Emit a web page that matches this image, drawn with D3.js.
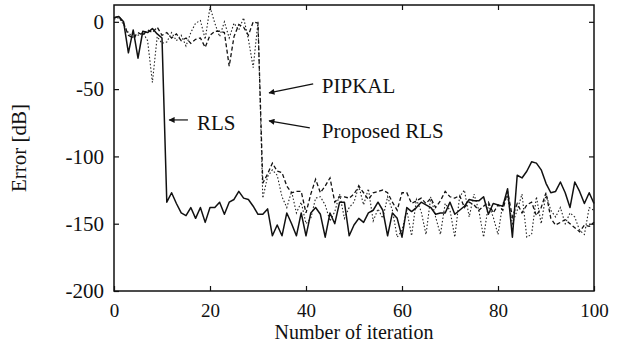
<!DOCTYPE html>
<html><head><meta charset="utf-8">
<script src="https://cdn.jsdelivr.net/npm/d3@7"></script>
<style>body{margin:0;background:#fff}svg{display:block}text{font-family:'Liberation Serif','Times New Roman',serif}</style>
</head><body>
<svg id="c" width="633" height="342"></svg>
<script>
const iterations = d3.range(0, 101);
const rls = [3,4,0,-23,-6,-27,-7,-8,-5,-9,-12,-134,-127,-135,-142,-144,-138,-146,-138,-149,
 -138,-138,-134,-143,-134,-132,-126,-131,-132,-137,-143,-143,-139,-159,-151,-159,-142,-150,-159,-142,
 -159,-142,-138,-143,-160,-142,-150,-134,-134,-159,-151,-146,-149,-142,-140,-134,-140,-159,-142,-146,
 -160,-138,-141,-138,-134,-136,-138,-143,-142,-142,-134,-143,-140,-137,-132,-133,-133,-130,-143,-135,
 -136,-137,-124,-160,-114,-116,-111,-104,-105,-110,-120,-127,-126,-119,-127,-138,-119,-126,-135,-127,-135];
const pipkal = [3,4,-1,-10,-12,-8,-10,-6,-8,-4,-10,-8,-12,-9,-14,-12,-16,-13,-12,-19,
 -10,-7,-7,-8,-33,-11,-2,-4,-10,0,-1,-120,-113,-105,-111,-112,-122,-127,-126,-126,
 -142,-128,-117,-127,-122,-116,-134,-130,-130,-131,-128,-122,-127,-132,-127,-126,-125,-127,-134,-140,
 -127,-127,-135,-133,-131,-135,-131,-138,-133,-126,-130,-131,-129,-138,-134,-136,-140,-137,-134,-142,
 -136,-140,-126,-145,-135,-142,-136,-134,-144,-138,-127,-146,-151,-149,-147,-150,-153,-156,-151,-152,-149];
const proposed = [2,3,-2,-8,-12,-10,-8,-14,-45,-11,-16,-15,-8,-14,-10,-18,-8,-1,1,-13,
 11,-1,-11,0,-12,-1,-6,3,-13,-34,0,-131,-115,-110,-114,-130,-138,-126,-142,-134,
 -150,-146,-131,-130,-136,-148,-141,-128,-146,-138,-134,-122,-136,-124,-148,-139,-146,-130,-140,-160,
 -155,-140,-159,-132,-141,-158,-130,-145,-158,-135,-140,-160,-130,-125,-145,-128,-140,-160,-136,-145,
 -158,-135,-130,-150,-140,-128,-160,-158,-130,-150,-128,-140,-145,-138,-150,-142,-145,-155,-158,-138,-140];
const xTicks = [0,20,40,60,80,100];
const yTicks = [0,-50,-100,-150,-200];

const svg = d3.select("#c");
const L=114, R=594, T=5, B=291;
const x = d3.scaleLinear().domain([0,100]).range([L,R]);
const y = d3.scaleLinear().domain([-200,12.5]).range([B,T]);
const font = "'Liberation Serif','Times New Roman',serif";

// ticks
const gx = svg.append("g").attr("transform",`translate(0,${B})`)
  .call(d3.axisBottom(x).tickValues(xTicks).tickSize(-5).tickPadding(13).tickFormat(d3.format("d")));
const gxt = svg.append("g").attr("transform",`translate(0,${T})`)
  .call(d3.axisTop(x).tickValues(xTicks.slice(1,-1)).tickSize(-5).tickFormat(""));
const gy = svg.append("g").attr("transform",`translate(${L},0)`)
  .call(d3.axisLeft(y).tickValues(yTicks).tickSize(-5).tickPadding(10).tickFormat(d3.format("d")));
const gyr = svg.append("g").attr("transform",`translate(${R},0)`)
  .call(d3.axisRight(y).tickValues(yTicks.slice(0,-1)).tickSize(-5).tickFormat(""));
[gx,gxt,gy,gyr].forEach(g=>{
  g.attr("font-family",font).attr("font-size",20);
  g.select(".domain").remove();
  g.selectAll("line").attr("stroke","#111").attr("stroke-width",1.2);
  g.selectAll("text").attr("font-family",font).attr("font-size",20).attr("fill","#111");
});
gy.selectAll("text").attr("font-size",21).text(d=>d===0?"0":String(d));
gx.selectAll("text").attr("dy",null).attr("y",null).attr("font-size",19).attr("transform","translate(0,26)");

// frame
svg.append("rect").attr("x",L).attr("y",T).attr("width",R-L).attr("height",B-T)
  .attr("fill","none").attr("stroke","#111").attr("stroke-width",1.5);

const line = d3.line().x((d,i)=>x(iterations[i])).y(d=>y(d));
svg.append("path").datum(proposed).attr("d",line).attr("fill","none")
  .attr("stroke","#222").attr("stroke-width",1.1).attr("stroke-dasharray","1.5,2");
svg.append("path").datum(pipkal).attr("d",line).attr("fill","none")
  .attr("stroke","#111").attr("stroke-width",1.3).attr("stroke-dasharray","4,2.5");
svg.append("path").datum(rls).attr("d",line).attr("fill","none")
  .attr("stroke","#111").attr("stroke-width",1.5).attr("stroke-linejoin","round");

// arrowheads
svg.append("defs").append("marker").attr("id","ah").attr("viewBox","0 0 10 10")
  .attr("refX",9).attr("refY",5).attr("markerWidth",8).attr("markerHeight",6)
  .attr("orient","auto").attr("markerUnits","userSpaceOnUse")
  .append("path").attr("d","M0,0L10,5L0,10z").attr("fill","#111");

const ann = [
  {t:"RLS", tx:17.3, ty:-80.3, x1:15.4, y1:-72.9, x2:11.5, y2:-72.9},
  {t:"PIPKAL", tx:43.3, ty:-52.8, x1:41.5, y1:-46.1, x2:32.3, y2:-52.8},
  {t:"Proposed RLS", tx:43.3, ty:-86.2, x1:40.8, y1:-78.8, x2:32.3, y2:-73.6}
];
ann.forEach(a=>{
  svg.append("line").attr("x1",x(a.x1)).attr("y1",y(a.y1)).attr("x2",x(a.x2)).attr("y2",y(a.y2))
    .attr("stroke","#111").attr("stroke-width",1.2).attr("marker-end","url(#ah)");
  svg.append("text").attr("x",x(a.tx)).attr("y",y(a.ty)).text(a.t)
    .attr("font-family",font).attr("font-size",21).attr("fill","#111");
});

svg.append("text").attr("x",(L+R)/2).attr("y",339).attr("text-anchor","middle")
  .attr("font-family",font).attr("font-size",20).attr("fill","#111").text("Number of iteration");
svg.append("text").attr("transform",`translate(26,${(T+B)/2}) rotate(-90)`).attr("text-anchor","middle")
  .attr("font-family",font).attr("font-size",21).attr("fill","#111").text("Error [dB]");
</script>
</body></html>
